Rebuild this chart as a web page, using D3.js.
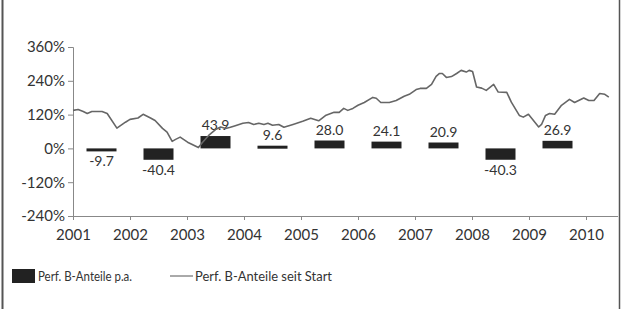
<!DOCTYPE html>
<html><head><meta charset="utf-8">
<script src="https://cdn.jsdelivr.net/npm/d3@7"></script>
<style>
body{margin:0;background:#fff;}
svg{display:block;}
text{font-family:Lato,"Open Sans",sans-serif;fill:#333;}
</style></head><body>
<svg id="c" width="625" height="309"></svg>
<script>
const years = [2001,2002,2003,2004,2005,2006,2007,2008,2009];
const annualPerf = [-9.7,-40.4,43.9,9.6,28.0,24.1,20.9,-40.3,26.9];
const yTicks = [360,240,120,0,-120,-240];
const xTicks = [2001,2002,2003,2004,2005,2006,2007,2008,2009,2010];
const lineT = [2001.00,2001.09,2001.18,2001.25,2001.33,2001.51,2001.60,2001.77,2001.92,2002.00,2002.14,2002.23,2002.36,2002.44,2002.57,2002.65,2002.74,2002.80,2002.88,2003.01,2003.20,2003.27,2003.38,2003.50,2003.59,2003.68,2003.76,2003.82,2003.98,2004.08,2004.17,2004.26,2004.35,2004.42,2004.50,2004.61,2004.70,2004.86,2005.03,2005.17,2005.31,2005.44,2005.58,2005.67,2005.75,2005.82,2005.91,2006.00,2006.11,2006.26,2006.32,2006.40,2006.55,2006.67,2006.81,2006.90,2007.02,2007.09,2007.20,2007.29,2007.37,2007.43,2007.48,2007.55,2007.64,2007.73,2007.81,2007.90,2007.95,2008.01,2008.08,2008.17,2008.25,2008.38,2008.46,2008.61,2008.69,2008.83,2008.90,2008.99,2009.05,2009.17,2009.22,2009.29,2009.36,2009.45,2009.57,2009.71,2009.80,2009.96,2010.05,2010.14,2010.24,2010.33,2010.40];
const lineV = [135,138,131,124,131,131,124,72,93,103,108,121,108,99,71,58,25,32,40,22,3,21,46,67,76,71,75,79,89,92,85,89,85,89,82,85,75,85,96,107,98,118,128,128,142,135,142,153,163,181,178,163,163,170,185,192,209,213,213,227,256,266,266,252,255,266,277,271,277,273,218,214,206,227,200,199,164,117,111,121,106,76,85,117,124,121,153,174,163,179,170,170,195,192,182];
const legendLabels = ["Perf. B-Anteile p.a.","Perf. B-Anteile seit Start"];

const svg = d3.select("#c");
const x = d3.scaleLinear().domain([2001,2010]).range([73,586]);
const y = d3.scaleLinear().domain([-240,360]).range([216,47]);

// frame
svg.append("line").attr("x1",2.5).attr("x2",2.5).attr("y1",0).attr("y2",309).attr("stroke","#555").attr("stroke-width",2);
svg.append("line").attr("x1",619.5).attr("x2",619.5).attr("y1",0).attr("y2",309).attr("stroke","#555").attr("stroke-width",1.5);

// y axis
const ya = svg.append("g").attr("transform","translate(73,0)")
  .call(d3.axisLeft(y).tickValues(yTicks).tickSize(5).tickPadding(3).tickFormat(d=>d+"%"));
ya.select(".domain").attr("stroke","#888");
ya.selectAll(".tick line").attr("stroke","#888");
ya.selectAll("text").style("font-size","15px").attr("fill","#333");

// x axis
const xa = svg.append("g").attr("transform","translate(0,216)")
  .call(d3.axisBottom(x).tickValues(xTicks).tickSize(4).tickPadding(9).tickFormat(d3.format("d")));
xa.select(".domain").attr("d","M73,0.5H618").attr("stroke","#888");
xa.selectAll(".tick line").attr("stroke","#888");
xa.selectAll("text").style("font-size","15px").attr("fill","#333");

// bars
const bw = 30;
svg.selectAll("rect.bar").data(years).join("rect").attr("class","bar")
  .attr("x",(d)=>x(d+0.5)-bw/2).attr("width",bw)
  .attr("y",(d,i)=>y(Math.max(0,annualPerf[i])))
  .attr("height",(d,i)=>Math.max(3,Math.abs(y(annualPerf[i])-y(0))))
  .attr("fill","#222");
svg.selectAll("text.bl").data(years).join("text").attr("class","bl")
  .attr("x",d=>x(d+0.5)).attr("text-anchor","middle").style("font-size","14px")
  .attr("y",(d,i)=>annualPerf[i]>=0 ? y(annualPerf[i])-6 : Math.max(y(annualPerf[i]),y(0)+3)+15)
  .text((d,i)=>annualPerf[i].toFixed(1));

// line
const pts = lineT.map((t,i)=>[t,lineV[i]]);
svg.append("path").datum(pts)
  .attr("d",d3.line().x(d=>x(d[0])).y(d=>y(d[1])))
  .attr("fill","none").attr("stroke","#666").attr("stroke-width",1.6).attr("stroke-linejoin","round");

// legend
svg.append("rect").attr("x",12).attr("y",269).attr("width",23).attr("height",14).attr("fill","#222");
svg.append("text").attr("x",38).attr("y",281).style("font-size","13.5px")
  .attr("textLength",94).attr("lengthAdjust","spacingAndGlyphs").text(legendLabels[0]);
svg.append("line").attr("x1",170).attr("x2",193).attr("y1",276).attr("y2",276).attr("stroke","#555").attr("stroke-width",1);
svg.append("text").attr("x",195).attr("y",281).style("font-size","13.5px")
  .attr("textLength",137).attr("lengthAdjust","spacingAndGlyphs").text(legendLabels[1]);
</script></body></html>
